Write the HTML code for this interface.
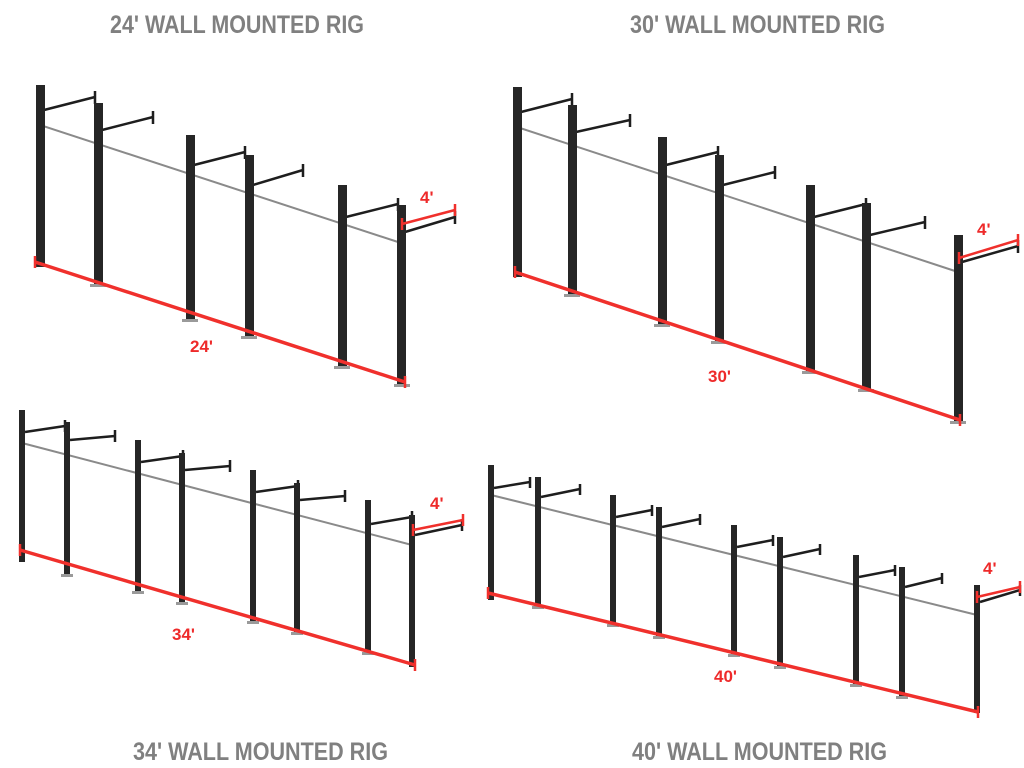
<!DOCTYPE html>
<html><head><meta charset="utf-8"><style>
html,body{margin:0;padding:0;background:#fff;width:1024px;height:768px;overflow:hidden}
svg{display:block}
.t{font-family:"Liberation Sans",sans-serif;font-weight:bold;font-size:25px;fill:#808080}
.r{font-family:"Liberation Sans",sans-serif;font-weight:bold;font-size:17px;fill:#ee2a2a}
.p{fill:#262626}
.bar{stroke:#8a8a8a;stroke-width:2;fill:none}
.arm{stroke:#1e1e1e;stroke-width:2.5;fill:none}
.red{stroke:#f0302c;stroke-width:3.5;fill:none}
.redt{stroke:#f0302c;stroke-width:2.5;fill:none}
.ft{fill:#9a9a9a}
</style></head><body>
<svg width="1024" height="768" viewBox="0 0 1024 768">
<text class="t" x="110" y="33" textLength="254" lengthAdjust="spacingAndGlyphs">24' WALL MOUNTED RIG</text>
<text class="t" x="630" y="33" textLength="255" lengthAdjust="spacingAndGlyphs">30' WALL MOUNTED RIG</text>
<text class="t" x="133" y="760" textLength="255" lengthAdjust="spacingAndGlyphs">34' WALL MOUNTED RIG</text>
<text class="t" x="632" y="760" textLength="255" lengthAdjust="spacingAndGlyphs">40' WALL MOUNTED RIG</text>

<!-- Panel 1 -->
<line class="bar" x1="40" y1="125" x2="401" y2="243"/>
<g class="arm">
<path d="M44 110 L95 97 M95 91 V104"/>
<path d="M102 130 L153 117 M153 111 V124"/>
<path d="M194 165 L245 152 M245 146 V159"/>
<path d="M253 185 L303 170 M303 164 V177"/>
<path d="M346 217 L398 204 M398 198 V211"/>
<path d="M405 232 L455 217 M455 211 V224"/>
</g>
<g class="p">
<rect x="36" y="85" width="9" height="182"/>
<rect x="94" y="103" width="9" height="182"/>
<rect x="186" y="135" width="9" height="185"/>
<rect x="245" y="155" width="9" height="182"/>
<rect x="338" y="185" width="9" height="182"/>
<rect x="397" y="205" width="9" height="180"/>
</g>
<g class="ft"><rect x="90" y="284" width="16" height="3"/><rect x="182" y="319" width="16" height="3"/><rect x="241" y="336" width="16" height="3"/><rect x="334" y="366" width="16" height="3"/><rect x="394" y="384" width="16" height="3"/></g>
<line class="red" x1="35" y1="262" x2="405" y2="382"/>
<path class="redt" d="M35 256V268 M405 376V388"/>
<path class="redt" d="M402 224 L455 210 M402 218V230 M455 204V216"/>
<text class="r" x="190" y="352">24'</text>
<text class="r" x="420" y="203">4'</text>

<!-- Panel 2 -->
<line class="bar" x1="517" y1="127" x2="958" y2="272"/>
<g class="arm">
<path d="M521 112 L572 99 M572 93 V106"/>
<path d="M576 132 L630 120 M630 114 V127"/>
<path d="M666 165 L718 152 M718 146 V159"/>
<path d="M723 185 L775 172 M775 166 V179"/>
<path d="M814 217 L866 204 M866 198 V211"/>
<path d="M870 235 L925 222 M925 216 V229"/>
<path d="M962 262 L1018 246 M1018 240 V253"/>
</g>
<g class="p">
<rect x="513" y="87" width="9" height="190"/>
<rect x="568" y="105" width="9" height="190"/>
<rect x="658" y="137" width="9" height="188"/>
<rect x="715" y="155" width="9" height="187"/>
<rect x="806" y="185" width="9" height="187"/>
<rect x="862" y="203" width="9" height="187"/>
<rect x="954" y="235" width="9" height="187"/>
</g>
<g class="ft"><rect x="564" y="294" width="16" height="3"/><rect x="654" y="324" width="16" height="3"/><rect x="711" y="341" width="16" height="3"/><rect x="802" y="371" width="16" height="3"/><rect x="858" y="389" width="16" height="3"/><rect x="950" y="421" width="16" height="3"/></g>
<line class="red" x1="515" y1="272" x2="960" y2="420"/>
<path class="redt" d="M515 266V278 M960 414V426"/>
<path class="redt" d="M959 258 L1018 240 M959 252V264 M1018 234V246"/>
<text class="r" x="708" y="382">30'</text>
<text class="r" x="977" y="235">4'</text>

<!-- Panel 3 -->
<line class="bar" x1="22" y1="443" x2="412" y2="545"/>
<g class="arm">
<path d="M25 432 L65 426 M65 420 V432"/>
<path d="M70 440 L115 436 M115 430 V442"/>
<path d="M141 462 L183 456 M183 450 V462"/>
<path d="M185 470 L230 466 M230 460 V472"/>
<path d="M256 492 L298 486 M298 480 V492"/>
<path d="M300 500 L345 496 M345 490 V502"/>
<path d="M371 524 L412 517 M412 511 V523"/>
<path d="M415 535 L462 525 M462 519 V531"/>
</g>
<g class="p">
<rect x="19" y="410" width="6" height="152"/>
<rect x="64" y="422" width="6" height="153"/>
<rect x="135" y="440" width="6" height="152"/>
<rect x="179" y="453" width="6" height="150"/>
<rect x="250" y="470" width="6" height="152"/>
<rect x="294" y="483" width="6" height="150"/>
<rect x="365" y="500" width="6" height="153"/>
<rect x="409" y="515" width="6" height="152"/>
</g>
<g class="ft"><rect x="61" y="574" width="12" height="3"/><rect x="132" y="591" width="12" height="3"/><rect x="176" y="602" width="12" height="3"/><rect x="247" y="621" width="12" height="3"/><rect x="291" y="632" width="12" height="3"/><rect x="362" y="652" width="12" height="3"/></g>
<line class="red" x1="20" y1="550" x2="415" y2="665"/>
<path class="redt" d="M20 544V556 M415 659V671"/>
<path class="redt" d="M413 530 L463 520 M413 524V536 M463 514V526"/>
<text class="r" x="172" y="640">34'</text>
<text class="r" x="430" y="509">4'</text>

<!-- Panel 4 -->
<line class="bar" x1="491" y1="495" x2="977" y2="615"/>
<g class="arm">
<path d="M494 488 L530 482 M530 477 V488"/>
<path d="M541 497 L580 489 M580 484 V495"/>
<path d="M616 517 L652 510 M652 505 V516"/>
<path d="M662 527 L700 519 M700 514 V525"/>
<path d="M737 547 L773 540 M773 535 V546"/>
<path d="M783 557 L820 549 M820 544 V555"/>
<path d="M859 577 L895 570 M895 565 V576"/>
<path d="M905 587 L942 578 M942 573 V584"/>
<path d="M980 602 L1020 590 M1020 585 V596"/>
</g>
<g class="p">
<rect x="488" y="465" width="6" height="135"/>
<rect x="535" y="477" width="6" height="130"/>
<rect x="610" y="495" width="6" height="130"/>
<rect x="656" y="507" width="6" height="130"/>
<rect x="731" y="525" width="6" height="130"/>
<rect x="777" y="537" width="6" height="130"/>
<rect x="853" y="555" width="6" height="130"/>
<rect x="899" y="567" width="6" height="130"/>
<rect x="974" y="585" width="6" height="128"/>
</g>
<g class="ft"><rect x="532" y="606" width="12" height="3"/><rect x="607" y="624" width="12" height="3"/><rect x="653" y="636" width="12" height="3"/><rect x="728" y="654" width="12" height="3"/><rect x="774" y="666" width="12" height="3"/><rect x="850" y="684" width="12" height="3"/><rect x="896" y="696" width="12" height="3"/></g>
<line class="red" x1="488" y1="593" x2="978" y2="712"/>
<path class="redt" d="M488 587V599 M978 706V718"/>
<path class="redt" d="M977 597 L1020 587 M977 591V603 M1020 581V593"/>
<text class="r" x="714" y="682">40'</text>
<text class="r" x="983" y="574">4'</text>
</svg>
</body></html>
